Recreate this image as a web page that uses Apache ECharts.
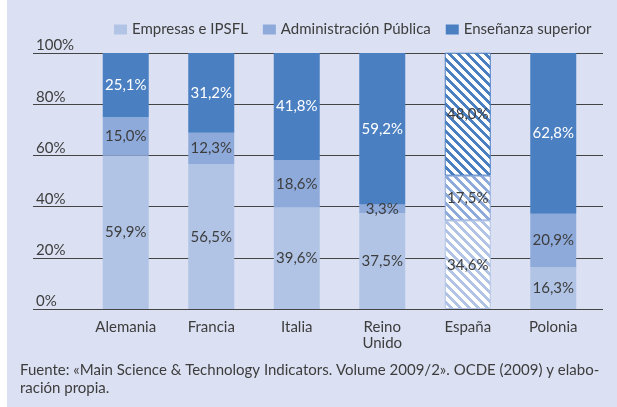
<!DOCTYPE html>
<html>
<head>
<meta charset="utf-8">
<script src="https://cdn.jsdelivr.net/npm/echarts@6/dist/echarts.min.js"></script>
<style>
  html, body { margin: 0; padding: 0; background: #ffffff; }
  #chart { position: absolute; left: 7px; top: 0; width: 610px; height: 407px; }
</style>
</head>
<body>
<div id="chart"></div>
<script>
// datos
const paises = ['Alemania', 'Francia', 'Italia', 'Reino\nUnido', 'España', 'Polonia'];
const empresas = [59.9, 56.5, 39.6, 37.5, 34.6, 16.3];
const administracion = [15.0, 12.3, 18.6, 3.3, 17.5, 20.9];
const ensenanza = [25.1, 31.2, 41.8, 59.2, 48.0, 62.8];
const ejeY = [0, 20, 40, 60, 80, 100];

const colores = ['#b1c4e5', '#8eaadb', '#4a7fc2'];
const fuente = 'Lato, "Open Sans", sans-serif';
const textoOscuro = '#3d3d3d';

// rayado diagonal para España
function rayado(color) {
    const n = 9;
    const c = document.createElement('canvas');
    c.width = n; c.height = n;
    const ctx = c.getContext('2d');
    ctx.fillStyle = '#ffffff';
    ctx.fillRect(0, 0, n, n);
    ctx.fillStyle = color;
    for (let x = 0; x < n; x++) {
        for (let y = 0; y < n; y++) {
            if (((x - y) % n + n) % n < 4) ctx.fillRect(x, y, 1, 1);
        }
    }
    return { image: c, repeat: 'repeat' };
}

function fmt(v) {
    return v.toFixed(1).replace('.', ',') + '%';
}

function serie(nombre, valores, idx, colorLabel) {
    return {
        name: nombre,
        type: 'bar',
        stack: 'total',
        xAxisIndex: 1,
        yAxisIndex: 1,
        barWidth: 46,
        itemStyle: { color: colores[idx] },
        label: {
            show: true,
            position: 'inside',
            color: colorLabel,
            fontFamily: fuente,
            fontSize: 15,
            formatter: p => fmt(p.value)
        },
        data: valores.map((v, i) => {
            if (paises[i] !== 'España') return v;
            return {
                value: v,
                itemStyle: { color: rayado(colores[idx]), borderColor: colores[idx], borderWidth: 1 },
                label: { color: textoOscuro }
            };
        })
    };
}

const chart = echarts.init(document.getElementById('chart'));
chart.setOption({
    backgroundColor: '#dbe1f2',
    animation: false,
    textStyle: { fontFamily: fuente },
    title: {
        text: 'Fuente: «Main Science & Technology Indicators. Volume 2009/2». OCDE (2009) y elabo-\nración propia.',
        left: 8,
        top: 356,
        textStyle: { fontSize: 15, fontWeight: 'normal', color: textoOscuro, lineHeight: 18, fontFamily: fuente }
    },
    legend: {
        top: 17,
        left: 102,
        itemWidth: 13,
        itemHeight: 10,
        itemGap: 15,
        icon: 'rect',
        textStyle: { fontSize: 15, color: textoOscuro, fontFamily: fuente },
        data: ['Empresas e IPSFL', 'Administración Pública', 'Enseñanza superior']
    },
    grid: [
        { left: 26, right: 14, top: 53, bottom: 98 },
        { left: 76, right: 21, top: 53, bottom: 98 }
    ],
    xAxis: [
        { type: 'value', gridIndex: 0, show: false, min: 0, max: 1 },
        {
            type: 'category',
            gridIndex: 1,
            data: paises,
            axisLine: { show: false },
            axisTick: { show: false },
            axisLabel: { color: textoOscuro, fontSize: 15, margin: 10, lineHeight: 16, fontFamily: fuente }
        }
    ],
    yAxis: [
        {
            type: 'value',
            gridIndex: 0,
            min: ejeY[0],
            max: ejeY[ejeY.length - 1],
            interval: 20,
            axisLine: { show: false },
            axisTick: { show: false },
            splitLine: { show: true, lineStyle: { color: '#444444', width: 1 } },
            axisLabel: {
                inside: true,
                margin: 3,
                verticalAlign: 'bottom',
                color: textoOscuro,
                fontSize: 15,
                fontFamily: fuente,
                formatter: v => v + '%'
            }
        },
        { type: 'value', gridIndex: 1, min: 0, max: 100, show: false }
    ],
    series: [
        serie('Empresas e IPSFL', empresas, 0, textoOscuro),
        serie('Administración Pública', administracion, 1, textoOscuro),
        serie('Enseñanza superior', ensenanza, 2, '#ffffff')
    ]
});
</script>
</body>
</html>
